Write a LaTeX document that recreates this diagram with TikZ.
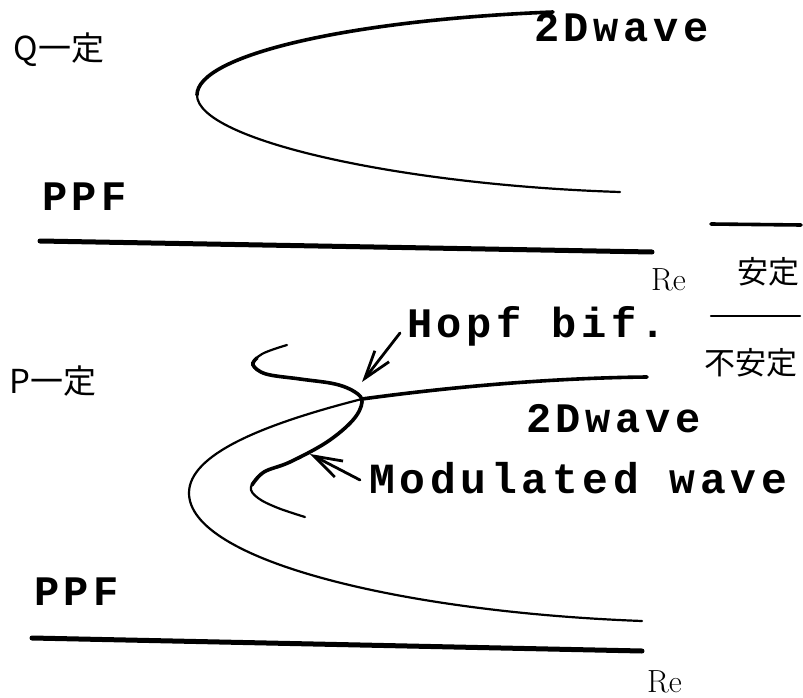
\documentclass[tikz,border=0pt]{standalone}
\usepackage{fontspec}
\usetikzlibrary{arrows.meta}
\newfontfamily\tw{Liberation Mono}[LetterSpace=11]
\newfontfamily\jp{Noto Sans CJK JP}
\tikzset{
  lbl/.style={inner sep=0pt, outer sep=0pt, anchor=base west,
    font=\tw\bfseries\fontsize{42}{42}\selectfont},
  jlbl/.style={inner sep=0pt, outer sep=0pt,
    font=\jp\fontsize{31}{31}\selectfont},
  jbig/.style={jlbl, font=\jp\fontsize{33}{33}\selectfont},
  relbl/.style={inner sep=0pt, outer sep=0pt, anchor=base west,
    font=\fontsize{32}{32}\selectfont},
  stable/.style={line width=3.6pt, line cap=round},
  unstable/.style={line width=2.2pt, line cap=round},
  ppf/.style={line width=5pt, line cap=round},
  pointer/.style={line width=2.8pt, line cap=round,
    -{Straight Barb[length=28pt,width=18pt,line width=2.8pt]}}
}
\begin{document}
\begin{tikzpicture}[x=1pt,y=-1pt]
\useasboundingbox (0,0) rectangle (803,698);

% ---------- upper panel: Q fixed ----------
\node[jbig] (qfix) at (59,50) {Q一定};
\node[lbl] (wave1) at (534,42) {2Dwave};
\node[lbl] (ppf1) at (42,210) {PPF};
\node[relbl] (re1) at (651,290) {Re};

% fold of the 2D wave branch
\coordinate (n1top) at (553,12);
\coordinate (n1nose) at (197,95);
\coordinate (n1end) at (620,192);
\draw[stable] (n1top) .. controls (350,20) and (197,55) .. (n1nose);
\draw[unstable] (n1nose) .. controls (197,140) and (400,185) .. (n1end);

% plane Poiseuille flow
\coordinate (p1a) at (40,241);
\coordinate (p1b) at (652,252);
\draw[ppf] (p1a) -- (p1b);

% ---------- legend ----------
\coordinate (lga) at (711,224);
\coordinate (lgb) at (801,225);
\draw[stable] (lga) -- (lgb);
\node[jlbl] (lstable) at (768,272) {安定};
\coordinate (lgc) at (711,316);
\coordinate (lgd) at (800,316);
\draw[unstable] (lgc) -- (lgd);
\node[jlbl] (lunstable) at (751,363) {不安定};

% ---------- lower panel: P fixed ----------
\node[jbig] (pfix) at (53,381) {P一定};
\node[lbl] (hopf) at (407,337) {Hopf bif.};
\node[lbl] (wave2) at (526,432) {2Dwave};
\node[lbl, font=\tw\bfseries\fontsize{43}{43}\selectfont] (modw) at (369,493) {Modulated wave};
\node[lbl] (ppf2) at (34,605) {PPF};
\node[relbl] (re2) at (647,692) {Re};

% 2D wave branch with the Hopf point
\coordinate (hp) at (362,399);
\coordinate (w2end) at (647,377);
\coordinate (n2nose) at (189,493);
\coordinate (n2end) at (642,621);
\draw[stable] (hp) .. controls (450,387) and (550,378) .. (w2end);
\draw[unstable] (hp) .. controls (260,425) and (189,455) .. (n2nose);
\draw[unstable] (n2nose) .. controls (189,560) and (400,612) .. (n2end);

% modulated wave branch born at the Hopf point
\draw[unstable] plot[smooth, tension=0.6] coordinates {
  (287,345) (262,354) (253,365) (266,374) (300,379) (335,384)
  (355,392) (362,402) (353,420) (327,442) (290,462) (264,472)
  (251,487) (258,498) (278,508) (305,517)};
\draw[stable] plot[smooth, tension=0.6] coordinates {
  (257,358) (253,365) (266,374) (300,379) (335,384)
  (355,392) (362,402) (353,420) (327,442) (290,462) (264,472)
  (252,485)};

% plane Poiseuille flow
\coordinate (p2a) at (32,638);
\coordinate (p2b) at (642,651);
\draw[ppf] (p2a) -- (p2b);

% pointers
\coordinate (hopftail) at (400,333);
\coordinate (hopftip) at (362,382);
\draw[pointer] (hopftail) -- (hopftip);
\coordinate (modtail) at (360,480);
\coordinate (modtip) at (310,454);
\draw[pointer] (modtail) -- (modtip);
\end{tikzpicture}
\end{document}
